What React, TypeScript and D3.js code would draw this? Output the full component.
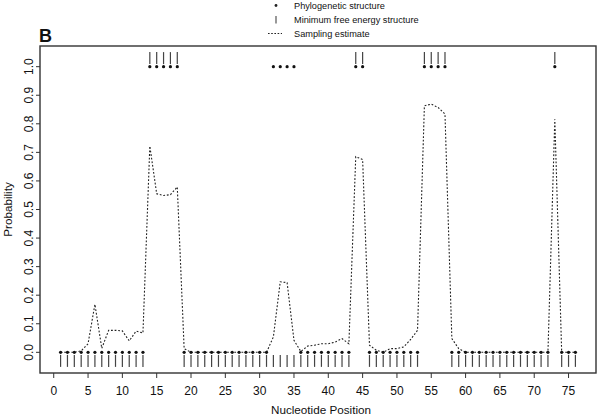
import React from "react";
import * as d3 from "d3";

// Nucleotide positions 1..76
const positions: number[] = d3.range(1, 77);

// Phylogenetic structure (1 = at top, 0 = at bottom)
const phylo: number[] = [
  0,0,0,0,0,0,0,0,0,0,0,0,0,
  1,1,1,1,1,
  0,0,0,0,0,0,0,0,0,0,0,0,0,
  1,1,1,1,
  0,0,0,0,0,0,0,0,
  1,1,
  0,0,0,0,0,0,0,0,
  1,1,1,1,
  0,0,0,0,0,0,0,0,0,0,0,0,0,0,0,
  1,
  0,0,0,
];

// Minimum free energy structure
const mfe: number[] = [
  0,0,0,0,0,0,0,0,0,0,0,0,0,
  1,1,1,1,1,
  0,0,0,0,0,0,0,0,0,0,0,0,0,
  0,0,0,0,
  0,0,0,0,0,0,0,0,
  1,1,
  0,0,0,0,0,0,0,0,
  1,1,1,1,
  0,0,0,0,0,0,0,0,0,0,0,0,0,0,0,
  1,
  0,0,0,
];

// Sampling estimate
const sampling: number[] = [
  0, 0, 0, 0.005, 0.03, 0.168, 0.014, 0.077, 0.077, 0.075, 0.04, 0.074, 0.068,
  0.722, 0.555, 0.549, 0.552, 0.579, 0.013,
  0, 0, 0, 0, 0, 0, 0, 0, 0, 0, 0, 0,
  0.054, 0.247, 0.244, 0.042, 0.003, 0.022, 0.025, 0.03, 0.03, 0.036, 0.048, 0.03,
  0.685, 0.675, 0.025, 0.007,
  0, 0.013, 0.013, 0.019, 0.045, 0.077, 0.863, 0.869, 0.857, 0.834, 0.048, 0.013,
  0, 0, 0, 0, 0, 0, 0, 0, 0, 0, 0, 0, 0,
  0.816, 0, 0, 0,
];

const xTicks: number[] = d3.range(0, 80, 5);
const yTicks: number[] = [0, 0.1, 0.2, 0.3, 0.4, 0.5, 0.6, 0.7, 0.8, 0.9, 1.0];
const legendLabels: string[] = [
  "Phylogenetic structure",
  "Minimum free energy structure",
  "Sampling estimate",
];

const W = 600;
const H = 417;
const left = 40, right = 596, top = 46, bottom = 373;
const FONT = "'Liberation Sans', Arial, Helvetica, sans-serif";

export default function App() {
  const x = d3.scaleLinear().domain([-2, 79]).range([left, right]);
  const y = d3.scaleLinear().domain([-0.0724, 1.0724]).range([bottom, top]);
  const line = d3
    .line<number>()
    .x((_, i) => x(positions[i]))
    .y((d) => y(d));

  const barHalf = 6;
  const dark = "#222";

  return (
    <svg
      width={W}
      height={H}
      style={{ position: "absolute", left: 0, top: 0, background: "#fff" }}
      fontFamily={FONT}
    >
      {/* legend */}
      <g>
        <circle cx={276} cy={5.5} r={1.4} fill={dark} />
        <line x1={276} x2={276} y1={16} y2={23.5} stroke="#444" strokeWidth={1.1} />
        <line x1={268} x2={282} y1={33.5} y2={33.5} stroke={dark} strokeWidth={1.1} strokeDasharray="1.6,1.6" />
        {legendLabels.map((t, i) => (
          <text key={t} x={294} y={9.3 + i * 14} fontSize={9.2} fill="#111">
            {t}
          </text>
        ))}
      </g>

      {/* panel letter */}
      <text x={39} y={42} fontSize={18} fontWeight="bold" fill="#111">B</text>

      {/* box */}
      <rect x={left} y={top} width={right - left} height={bottom - top} fill="none" stroke="#333" strokeWidth={1.4} />

      {/* x axis */}
      {xTicks.map((t) => (
        <g key={"xt" + t}>
          <line x1={x(t)} x2={x(t)} y1={bottom} y2={bottom + 5} stroke="#333" strokeWidth={1} />
          <text x={x(t)} y={394.5} fontSize={12} textAnchor="middle" fill="#111">{t}</text>
        </g>
      ))}
      <text x={(left + right) / 2 + 3} y={414} fontSize={11.7} textAnchor="middle" fill="#111">
        Nucleotide Position
      </text>

      {/* y axis */}
      {yTicks.map((t) => (
        <g key={"yt" + t}>
          <line x1={left - 4} x2={left} y1={y(t)} y2={y(t)} stroke="#333" strokeWidth={1} />
          <text
            transform={`translate(${32.5},${y(t)}) rotate(-90)`}
            fontSize={12}
            textAnchor="middle"
            fill="#111"
          >
            {t.toFixed(1)}
          </text>
        </g>
      ))}
      <text
        transform={`translate(${12},${(top + bottom) / 2}) rotate(-90)`}
        fontSize={11.7}
        textAnchor="middle"
        fill="#111"
      >
        Probability
      </text>

      {/* MFE bars */}
      {mfe.map((v, i) => {
        const cy = y(v === 1 ? 1.03 : -0.03);
        return (
          <line
            key={"m" + i}
            x1={x(positions[i])}
            x2={x(positions[i])}
            y1={cy - barHalf}
            y2={cy + barHalf}
            stroke="#444"
            strokeWidth={1.2}
          />
        );
      })}

      {/* sampling estimate */}
      <path d={line(sampling) || ""} fill="none" stroke={dark} strokeWidth={1.1} strokeDasharray="1.8,1.8" />

      {/* phylogenetic points */}
      {phylo.map((v, i) => (
        <circle key={"p" + i} cx={x(positions[i])} cy={y(v)} r={1.6} fill="#111" />
      ))}
    </svg>
  );
}
